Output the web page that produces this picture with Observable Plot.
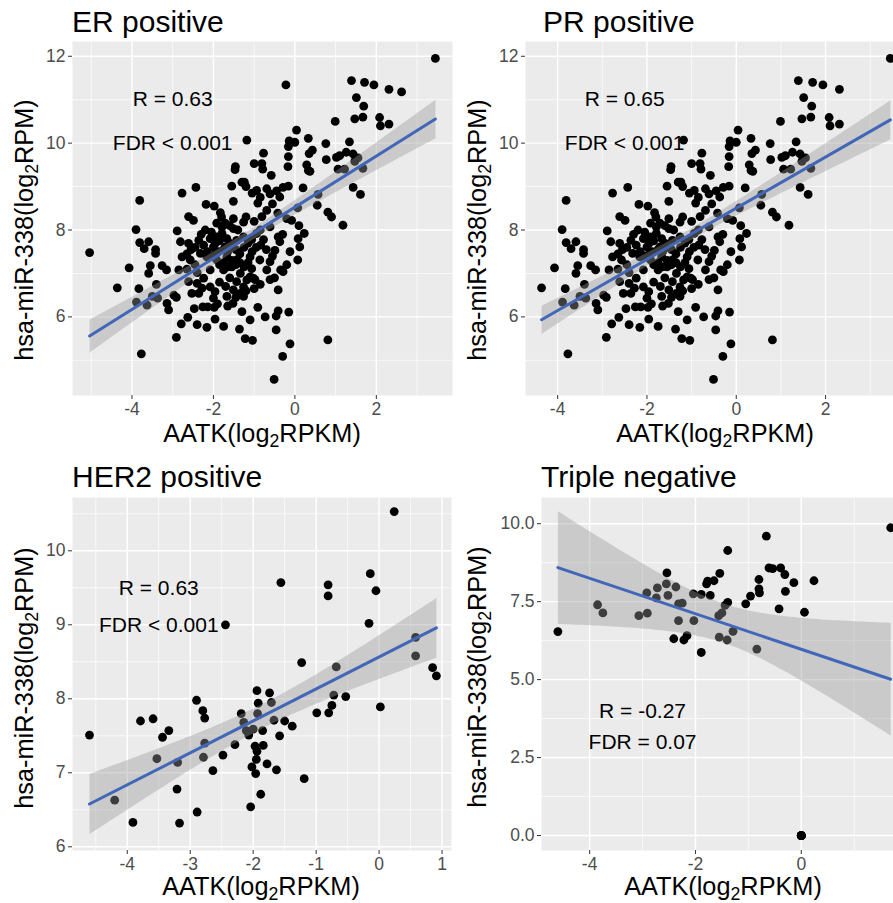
<!DOCTYPE html>
<html><head><meta charset="utf-8">
<script src="https://cdn.jsdelivr.net/npm/d3@7"></script>
<script src="https://cdn.jsdelivr.net/npm/@observablehq/plot@0.6"></script>
<style>
body{margin:0;background:#fff;overflow:hidden;font-family:"Liberation Sans",Arial,sans-serif;}
#wrap{position:relative;width:893px;height:903px;overflow:hidden;}
#wrap svg{position:absolute;}
.title{position:absolute;font-size:30px;color:#000;white-space:nowrap;line-height:1;}
.xlab{position:absolute;font-size:25.3px;color:#000;white-space:nowrap;transform:translateX(-50%);line-height:0.8;}
.ylab{position:absolute;font-size:25.3px;color:#000;white-space:nowrap;transform:translate(-50%,-50%) rotate(-90deg);line-height:1;}
.s{font-size:0.7em;display:inline-block;line-height:0.8;position:relative;top:0.3em;}
</style></head>
<body><div id="wrap"></div>
<script>
// ---------- data ----------
const erPoints = [
[3.45,11.95],[-0.22,11.34],[1.39,11.44],[1.71,11.40],[1.94,11.34],[2.31,11.24],[2.62,11.18],[1.51,11.05],[1.69,10.85],[1.47,10.56],[1.67,10.60],[0.99,10.50],[2.08,10.59],[2.10,10.40],[2.31,10.44],
[0.04,10.30],[-1.18,10.07],[0.33,10.11],[-0.14,10.05],[-0.16,9.92],[0.0,10.02],[0.76,9.99],[1.34,10.03],[0.43,9.84],[0.35,9.76],[-0.16,9.69],[1.26,9.79],[1.02,9.67],[1.10,9.71],[0.77,9.62],[1.43,9.75],[1.55,9.66],[1.47,9.58],[1.67,9.42],[1.22,9.40],[1.06,9.40],
[-0.77,9.77],[-1.0,9.53],[-0.81,9.53],[-0.79,9.40],[-1.46,9.46],[-1.47,9.39],[-0.17,9.46],[0.29,9.50],[0.33,9.37],[0.37,9.35],[-0.58,9.26],
[-2.43,8.98],[-1.55,9.01],[-1.30,9.10],[-1.24,9.10],[-0.94,8.91],[-0.69,8.95],[-0.61,8.83],[-0.29,8.98],[-0.16,9.01],[0.20,8.97],[0.57,8.82],
[-2.77,8.85],[-3.81,8.68],[-1.51,8.66],[-0.37,8.76],[-0.55,8.60],[-0.91,8.62],[1.43,8.98],[1.61,8.82],[0.55,8.57],[0.07,8.51],
[-2.18,8.59],[-1.98,8.55],[-1.83,8.40],[-2.61,8.31],[-2.49,8.22],[-1.51,8.26],[-1.26,8.18],[-0.81,8.31],[-0.69,8.45],[-0.42,8.39],[-0.61,8.07],[-0.20,8.26],[-0.08,8.22],[0.81,8.41],[0.90,8.30],[1.18,8.11],
[-3.90,8.01],[-2.89,7.98],[-1.92,8.16],[-1.79,8.07],[-1.71,8.16],[-1.51,8.03],
[-3.81,7.71],[-3.59,7.73],[-3.70,7.57],[-3.42,7.55],[-3.42,7.46],[-2.81,7.73],[-2.61,7.69],[-2.36,7.76],[-2.24,7.65],[-2.08,7.80],[-1.92,7.84],[-1.79,7.92],[-1.67,7.80],[-2.0,7.61],[-1.88,7.50],[-1.71,7.61],[-1.59,7.69],[-1.43,7.76],[-1.26,7.84],[-1.06,7.78],[-0.94,7.92],[-0.77,7.78],[-0.84,7.65],[-0.41,7.84],[-0.37,7.73],[-0.49,7.53],[-0.12,7.50],[0.08,7.80],[0.23,7.92],[0.12,7.61],[0.07,7.31],
[-2.77,7.38],[-2.57,7.31],[-2.32,7.46],[-2.16,7.38],[-1.92,7.31],[-1.67,7.38],[-1.43,7.31],[-1.10,7.38],[-0.86,7.31],[-0.61,7.27],
[-4.07,7.13],[-3.55,7.18],[-3.59,7.0],[-3.26,7.18],[-3.15,7.08],[-2.85,7.08],[-2.65,7.10],[-2.40,7.02],[-2.08,7.08],[-1.75,7.08],[-1.55,7.15],[-1.34,7.0],[-1.06,7.11],[-1.10,6.92],[-0.69,7.08],[-0.35,7.08],[-0.29,7.04],
[-4.36,6.67],[-3.83,6.65],[-3.40,6.75],[-3.89,6.34],[-3.63,6.27],[-3.50,6.47],[-3.37,6.43],[-3.14,6.31],[-3.10,6.16],[-2.97,6.50],[-2.91,6.45],[-2.61,6.81],[-2.40,6.77],[-2.24,6.89],[-2.28,6.66],[-2.53,6.54],[-2.36,6.54],[-2.08,6.69],[-1.96,6.58],[-2.0,6.43],[-1.67,6.47],[-1.51,6.62],[-1.43,6.81],[-1.34,6.54],[-1.26,6.69],[-1.18,6.85],[-1.02,6.89],[-0.98,6.86],[-1.26,6.47],[-0.61,6.86],[-0.41,6.62],[-1.52,6.31],
[-2.47,6.19],[-2.26,6.23],[-2.14,6.23],[-1.98,6.22],[-1.96,5.95],[-1.75,5.78],[-2.63,5.99],[-2.79,5.84],[-2.40,5.82],[-2.16,5.76],[-1.30,6.12],[-1.10,5.93],[-0.91,6.22],[-0.73,6.0],[-0.46,6.02],[-0.41,6.14],[-0.15,6.11],[-1.36,5.72],[-1.22,5.50],[-1.04,5.46],[-0.46,5.70],[-0.12,5.38],[-0.30,5.09],[-0.51,4.56],[0.81,5.47],[-2.91,5.53],[-3.77,5.15],[-5.04,7.48],
[-2.3,7.9],[-2.2,8.0],[-2.05,7.95],[-1.95,7.7],[-1.85,7.75],[-1.75,7.55],[-1.65,7.5],[-1.55,7.6],[-1.45,7.55],[-1.35,7.45],[-1.25,7.6],[-1.15,7.7],[-1.05,7.5],[-0.95,7.6],[-2.15,7.5],[-2.05,7.4],[-1.95,7.45],[-1.85,7.2],[-1.75,7.25],[-1.65,7.15],[-1.55,7.3],[-1.45,7.2],[-1.35,7.25],[-1.25,7.15],[-1.15,7.25],[-2.45,7.6],[-2.55,7.55],[-2.65,7.45],[-2.45,7.2],[-1.8,8.3],[-1.6,8.1],[-1.4,8.0],[-1.2,8.3],[-1.0,8.2],[-0.85,8.0],[-0.7,7.55],[-0.55,7.4],[-0.2,7.2],[-0.3,7.9],[0.1,8.1],
[-1.85,6.8],[-1.7,6.7],[-1.6,6.9],[-1.45,6.45],[-1.2,6.6],[-1.0,6.65],[-0.85,6.75],[-0.5,6.9],[-1.9,6.3],[-1.65,6.25],
[-1.2,9.0],[-1.05,8.85],[-0.85,8.75],[-0.45,8.9]
];
const prPoints = [
[3.45,11.95],[1.39,11.44],[1.71,11.40],[1.94,11.34],[2.31,11.24],[1.51,11.05],[1.69,10.85],[1.47,10.56],[1.67,10.60],[0.99,10.50],[2.08,10.59],[2.10,10.40],[2.31,10.44],
[0.04,10.30],[-1.18,10.07],[0.33,10.11],[-0.14,10.05],[-0.16,9.92],[0.0,10.02],[0.76,9.99],[1.34,10.03],[0.43,9.84],[0.35,9.76],[-0.16,9.69],[1.26,9.79],[1.02,9.67],[1.10,9.71],[0.77,9.62],[1.43,9.75],[1.55,9.66],[1.47,9.58],[1.67,9.42],[1.22,9.40],[1.06,9.40],
[-0.77,9.77],[-1.0,9.53],[-0.81,9.53],[-0.79,9.40],[-1.46,9.46],[-1.47,9.39],[-0.17,9.46],[0.29,9.50],[0.33,9.37],[0.37,9.35],[-0.58,9.26],
[-2.43,8.98],[-1.55,9.01],[-1.30,9.10],[-1.24,9.10],[-0.94,8.91],[-0.69,8.95],[-0.61,8.83],[-0.29,8.98],[-0.16,9.01],[0.20,8.97],[0.57,8.82],
[-2.77,8.85],[-3.81,8.68],[-1.51,8.66],[-0.37,8.76],[-0.55,8.60],[-0.91,8.62],[1.43,8.98],[1.61,8.82],[0.55,8.57],[0.07,8.51],
[-2.18,8.59],[-1.98,8.55],[-1.83,8.40],[-2.61,8.31],[-2.49,8.22],[-1.51,8.26],[-1.26,8.18],[-0.81,8.31],[-0.69,8.45],[-0.42,8.39],[-0.61,8.07],[-0.20,8.26],[-0.08,8.22],[0.81,8.41],[0.90,8.30],[1.18,8.11],
[-3.90,8.01],[-2.89,7.98],[-1.92,8.16],[-1.79,8.07],[-1.71,8.16],[-1.51,8.03],
[-3.81,7.71],[-3.59,7.73],[-3.70,7.57],[-3.42,7.55],[-3.42,7.46],[-2.81,7.73],[-2.61,7.69],[-2.36,7.76],[-2.24,7.65],[-2.08,7.80],[-1.92,7.84],[-1.79,7.92],[-1.67,7.80],[-2.0,7.61],[-1.88,7.50],[-1.71,7.61],[-1.59,7.69],[-1.43,7.76],[-1.26,7.84],[-1.06,7.78],[-0.94,7.92],[-0.77,7.78],[-0.84,7.65],[-0.41,7.84],[-0.37,7.73],[-0.49,7.53],[-0.12,7.50],[0.08,7.80],[0.23,7.92],[0.12,7.61],[0.07,7.31],
[-2.77,7.38],[-2.57,7.31],[-2.32,7.46],[-2.16,7.38],[-1.92,7.31],[-1.67,7.38],[-1.43,7.31],[-1.10,7.38],[-0.86,7.31],[-0.61,7.27],
[-4.07,7.13],[-3.55,7.18],[-3.59,7.0],[-3.26,7.18],[-3.15,7.08],[-2.85,7.08],[-2.65,7.10],[-2.40,7.02],[-2.08,7.08],[-1.75,7.08],[-1.55,7.15],[-1.34,7.0],[-1.06,7.11],[-1.10,6.92],[-0.69,7.08],[-0.35,7.08],[-0.29,7.04],
[-4.36,6.67],[-3.83,6.65],[-3.40,6.75],[-3.89,6.34],[-3.63,6.27],[-3.50,6.47],[-3.37,6.43],[-3.14,6.31],[-3.10,6.16],[-2.97,6.50],[-2.91,6.45],[-2.61,6.81],[-2.40,6.77],[-2.24,6.89],[-2.28,6.66],[-2.53,6.54],[-2.36,6.54],[-2.08,6.69],[-1.96,6.58],[-2.0,6.43],[-1.67,6.47],[-1.51,6.62],[-1.43,6.81],[-1.34,6.54],[-1.26,6.69],[-1.18,6.85],[-1.02,6.89],[-0.98,6.86],[-1.26,6.47],[-0.61,6.86],[-0.41,6.62],[-1.52,6.31],
[-2.47,6.19],[-2.26,6.23],[-2.14,6.23],[-1.98,6.22],[-1.96,5.95],[-1.75,5.78],[-2.63,5.99],[-2.79,5.84],[-2.40,5.82],[-2.16,5.76],[-1.30,6.12],[-1.10,5.93],[-0.91,6.22],[-0.73,6.0],[-0.46,6.02],[-0.41,6.14],[-0.15,6.11],[-1.36,5.72],[-1.22,5.50],[-1.04,5.46],[-0.46,5.70],[-0.12,5.38],[-0.30,5.09],[-0.51,4.56],[0.81,5.47],[-2.91,5.53],[-3.77,5.15],
[-2.3,7.9],[-2.2,8.0],[-2.05,7.95],[-1.95,7.7],[-1.85,7.75],[-1.75,7.55],[-1.65,7.5],[-1.55,7.6],[-1.45,7.55],[-1.35,7.45],[-1.25,7.6],[-1.15,7.7],[-1.05,7.5],[-0.95,7.6],[-2.15,7.5],[-2.05,7.4],[-1.95,7.45],[-1.85,7.2],[-1.75,7.25],[-1.65,7.15],[-1.55,7.3],[-1.45,7.2],[-1.35,7.25],[-1.25,7.15],[-1.15,7.25],[-2.45,7.6],[-2.55,7.55],[-2.65,7.45],[-2.45,7.2],[-1.8,8.3],[-1.6,8.1],[-1.4,8.0],[-1.2,8.3],[-1.0,8.2],[-0.85,8.0],[-0.7,7.55],[-0.55,7.4],[-0.2,7.2],[-0.3,7.9],[0.1,8.1],
[-1.85,6.8],[-1.7,6.7],[-1.6,6.9],[-1.45,6.45],[-1.2,6.6],[-1.0,6.65],[-0.85,6.75],[-0.5,6.9],[-1.9,6.3],[-1.65,6.25],
[-1.2,9.0],[-1.05,8.85],[-0.85,8.75],[-0.45,8.9]
];
const her2Points = [
[-4.60,7.51],[-4.20,6.63],[-3.91,6.33],[-3.79,7.70],[-3.59,7.73],[-3.53,7.19],[-3.44,7.48],[-3.34,7.57],[-3.21,6.78],[-3.20,7.14],[-3.17,6.32],
[-2.90,7.98],[-2.89,6.47],[-2.80,7.84],[-2.77,7.74],[-2.77,7.40],[-2.79,7.21],[-2.64,7.03],[-2.48,7.24],[-2.44,9.00],[-2.29,7.38],[-2.19,7.80],
[-2.15,7.68],[-2.11,7.57],[-2.07,7.51],[-2.00,7.59],[-2.04,6.54],[-1.97,7.36],[-1.94,7.29],[-1.95,7.18],[-2.02,7.08],[-1.96,6.99],[-1.88,6.71],
[-1.94,8.11],[-1.92,7.94],[-1.93,7.80],[-1.85,7.57],[-1.84,7.37],[-1.78,7.12],[-1.74,8.08],[-1.71,7.95],[-1.67,7.71],[-1.63,7.04],[-1.58,7.50],
[-1.56,9.57],[-1.50,7.70],[-1.38,7.63],[-1.23,8.49],[-1.19,6.92],[-0.99,7.81],[-0.81,9.54],[-0.81,9.39],[-0.80,7.81],[-0.75,7.91],[-0.72,8.05],
[-0.68,8.43],[-0.53,8.03],[-0.16,9.02],[-0.14,9.69],[-0.05,9.46],[0.02,7.89],[0.24,10.53],[0.58,8.83],[0.58,8.58],[0.85,8.42],[0.91,8.31]
];
// the dot at (0, 0) is several overlapping samples (needed for the drawn fit: slope ≈ -0.57, R = -0.27)
const tnPoints = [
[-4.60,6.54],[1.69,9.87],[0,0],[0,0],[0,0],[0,0],[0,0],[0,0],[-3.85,7.40],[-3.75,7.14],[-3.07,7.05],[-2.91,7.13],[-2.92,7.78],[-2.72,7.94],[-2.74,7.62],[-2.55,8.07],
[-2.54,8.42],[-2.52,7.70],[-2.37,7.97],[-2.32,7.43],[-2.25,7.45],[-2.32,6.89],[-2.41,6.31],[-2.22,6.27],[-2.16,6.41],[-2.03,6.89],[-2.04,7.75],
[-1.89,7.73],[-1.89,5.87],[-1.79,8.07],[-1.77,8.16],[-1.65,8.17],[-1.72,7.70],[-1.54,8.41],[-1.39,9.14],[-1.39,7.48],[-1.44,7.38],[-1.50,7.14],
[-1.56,7.05],[-1.55,6.36],[-1.40,6.27],[-1.29,6.55],[-1.05,7.43],[-0.96,7.68],[-0.84,5.98],[-0.80,8.21],[-0.80,7.91],[-0.79,7.78],[-0.66,9.60],
[-0.61,8.58],[-0.54,8.56],[-0.39,8.58],[-0.31,8.37],[-0.30,7.83],[-0.42,7.27],[-0.14,8.11],[0.06,7.16],[0.24,8.17]
];
const titles = ["ER positive", "PR positive", "HER2 positive", "Triple negative"];
const erAnnot   = [{x:-3,   y:11, label:"R = 0.63"},  {x:-3,   y:10, label:"FDR < 0.001"}];
const prAnnot   = [{x:-2.5, y:11, label:"R = 0.65"},  {x:-2.5, y:10, label:"FDR < 0.001"}];
const her2Annot = [{x:-3.5, y:9.5, label:"R = 0.63"}, {x:-3.5, y:9,  label:"FDR < 0.001"}];
const tnAnnot   = [{x:-3,   y:4,  label:"R = -0.27"}, {x:-3,   y:3,  label:"FDR = 0.07"}];
const erXTicks = [-4,-2,0,2], erXMinor = [-5,-3,-1,1,3];
const erYTicks = [6,8,10,12], erYMinor = [5,7,9,11];
const prXTicks = [-4,-2,0,2], prXMinor = [-3,-1,1,3];
const her2XTicks = [-4,-3,-2,-1,0,1], her2XMinor = [-4.5,-3.5,-2.5,-1.5,-0.5,0.5];
const her2YTicks = [6,7,8,9,10], her2YMinor = [6.5,7.5,8.5,9.5,10.5];
const tnXTicks = [-4,-2,0], tnXMinor = [-3,-1,1];
const tnYTicks = [0,2.5,5,7.5,10], tnYMinor = [1.25,3.75,6.25,8.75];

// ---------- drawing ----------
const FONT = '"Liberation Sans", Arial, sans-serif';
const wrap = document.getElementById("wrap");

function panel(o) {
  const data = o.points.map(([x, y]) => ({x, y}));
  const svg = Plot.plot({
    width: o.width, height: o.height,
    marginLeft: o.ml, marginRight: 0, marginTop: 41, marginBottom: 25,
    style: {background: "transparent", fontFamily: FONT, overflow: "visible"},
    x: {domain: o.xDomain, label: null},
    y: {domain: o.yDomain, label: null},
    marks: [
      Plot.frame({fill: "#EBEBEB", stroke: "none"}),
      Plot.gridX(o.xMinor, {stroke: "#fff", strokeOpacity: 1, strokeWidth: 0.7}),
      Plot.gridY(o.yMinor, {stroke: "#fff", strokeOpacity: 1, strokeWidth: 0.7}),
      Plot.gridX(o.xTicks, {stroke: "#fff", strokeOpacity: 1, strokeWidth: 1.4}),
      Plot.gridY(o.yTicks, {stroke: "#fff", strokeOpacity: 1, strokeWidth: 1.4}),
      Plot.axisX(o.xTicks, {anchor: "bottom", tickSize: 4, tickPadding: 3, stroke: "#333", fill: "#4D4D4D", fontSize: 17.5, tickFormat: d => String(d), label: null}),
      Plot.axisY(o.yTicks, {anchor: "left", tickSize: 4, tickPadding: 3, stroke: "#333", fill: "#4D4D4D", fontSize: 17.5, tickFormat: o.yFormat || (d => String(d)), label: null}),
      Plot.dot(data, {x: "x", y: "y", r: 4.4, fill: "#000", stroke: "none"}),
      Plot.linearRegressionY(data, {x: "x", y: "y", ci: 0.95, stroke: "#4266B8", strokeWidth: 3, fill: "#999999", fillOpacity: 0.4}),
      Plot.text(o.annot, {x: "x", y: "y", text: "label", fontSize: 21, fill: "#000"})
    ]
  });
  svg.style.left = o.left + "px";
  svg.style.top = o.top + "px";
  wrap.appendChild(svg);
}

panel({points: erPoints, annot: erAnnot, left: 0, top: 0, width: 452, height: 420, ml: 72,
  xDomain: [-5.46, 3.87], yDomain: [4.19, 12.34], xTicks: erXTicks, xMinor: erXMinor, yTicks: erYTicks, yMinor: erYMinor});
panel({points: prPoints, annot: prAnnot, left: 453, top: 0, width: 452, height: 420, ml: 72,
  xDomain: [-4.72, 3.79], yDomain: [4.19, 12.34], xTicks: prXTicks, xMinor: prXMinor, yTicks: erYTicks, yMinor: erYMinor});
panel({points: her2Points, annot: her2Annot, left: 0, top: 456, width: 451, height: 419, ml: 72,
  xDomain: [-4.87, 1.15], yDomain: [5.95, 10.72], xTicks: her2XTicks, xMinor: her2XMinor, yTicks: her2YTicks, yMinor: her2YMinor});
panel({points: tnPoints, annot: tnAnnot, left: 453, top: 456, width: 452, height: 419, ml: 88,
  xDomain: [-4.91, 1.97], yDomain: [-0.48, 10.84], xTicks: tnXTicks, xMinor: tnXMinor, yTicks: tnYTicks, yMinor: tnYMinor,
  yFormat: d3.format(".1f")});

// ---------- titles and axis titles ----------
function addDiv(cls, html, left, top) {
  const d = document.createElement("div");
  d.className = cls; d.innerHTML = html;
  d.style.left = left + "px"; d.style.top = top + "px";
  wrap.appendChild(d);
}
const titlePos = [[72, 7], [543, 7], [72, 462], [541, 462]];
titles.forEach((t, i) => addDiv("title", t, titlePos[i][0], titlePos[i][1]));
const xLabel = 'AATK(log<span class="s">2</span>RPKM)';
const yLabel = 'hsa-miR-338(log<span class="s">2</span>RPM)';
[[262, 423], [715, 423], [261, 876], [723, 876]].forEach(([l, t]) => addDiv("xlab", xLabel, l, t));
[[25, 230], [478, 230], [25, 678], [478, 677]].forEach(([l, t]) => addDiv("ylab", yLabel, l, t));
</script>
</body></html>
